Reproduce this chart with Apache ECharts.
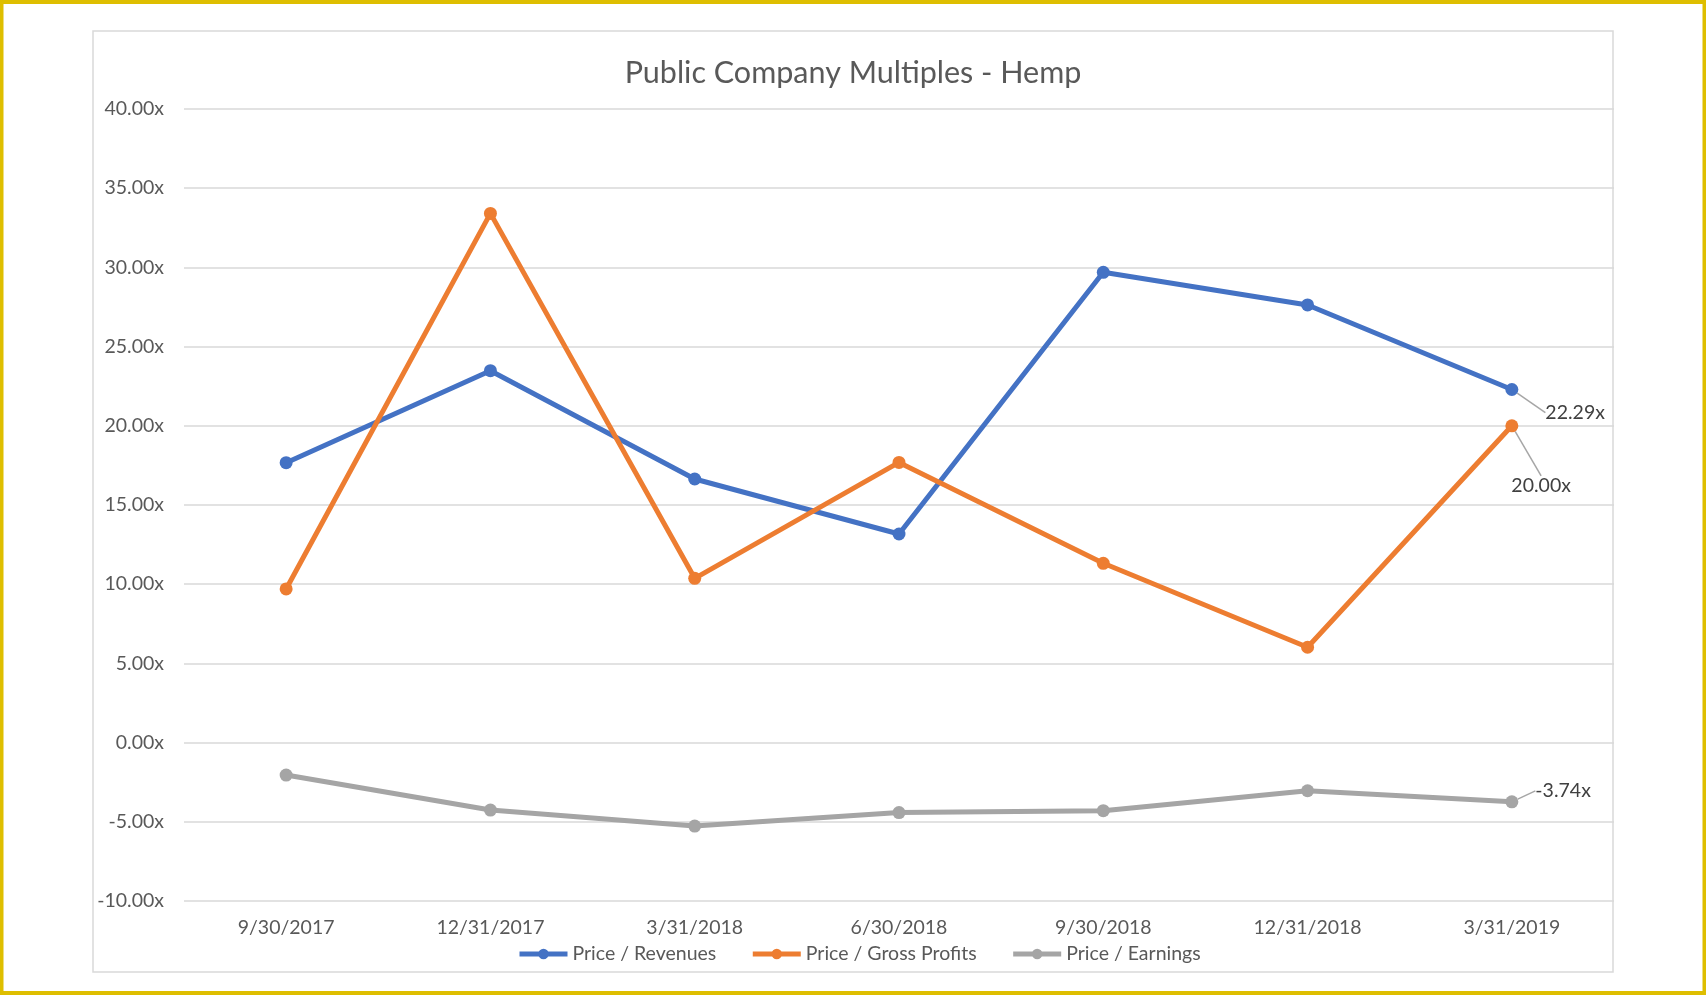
<!DOCTYPE html>
<html>
<head>
<meta charset="utf-8">
<title>Public Company Multiples - Hemp</title>
<script src="https://cdn.jsdelivr.net/npm/echarts@6/dist/echarts.min.js"></script>
<style>
  html, body { margin: 0; padding: 0; background: #fff; }
  #chart { width: 1706px; height: 995px; }
</style>
</head>
<body>
<div id="chart"></div>
<script>
// values
const categories = ['9/30/2017', '12/31/2017', '3/31/2018', '6/30/2018', '9/30/2018', '12/31/2018', '3/31/2019'];
const priceRevenues = [17.67, 23.48, 16.64, 13.17, 29.69, 27.63, 22.29];
const priceGrossProfits = [9.70, 33.41, 10.37, 17.69, 11.32, 6.02, 20.00];
const priceEarnings = [-2.05, -4.26, -5.27, -4.42, -4.30, -3.04, -3.74];
const seriesNames = ['Price / Revenues', 'Price / Gross Profits', 'Price / Earnings'];
const yMin = -10, yMax = 40, yStep = 5;

const FONT = 'Lato, "Open Sans", sans-serif';
const colors = ['#4472C4', '#ED7D31', '#A5A5A5'];

// only the last point of each series carries a label, moved off the point
const labelOffsets = [
  { dx: 22, dy: 23 },
  { dx: -12, dy: 60 },
  { dx: 12, dy: -11 }
];

function makeSeries(name, values, idx) {
  const data = values.map(function (v, i) {
    if (i !== values.length - 1) return v;
    return {
      value: v,
      label: {
        show: true,
        position: 'right',
        formatter: function (p) { return p.value.toFixed(2) + 'x'; },
        fontFamily: FONT,
        fontSize: 19.5,
        color: '#404040'
      },
      labelLine: {
        show: true,
        lineStyle: { color: '#A6A6A6', width: 1.5 }
      }
    };
  });
  return {
    name: name,
    type: 'line',
    data: data,
    color: colors[idx],
    symbol: 'circle',
    symbolSize: 13,
    lineStyle: { width: 5 },
    labelLayout: labelOffsets[idx],
    animation: false
  };
}

const chart = echarts.init(document.getElementById('chart'));
chart.setOption({
  backgroundColor: '#fff',
  title: {
    text: 'Public Company Multiples - Hemp',
    left: 'center',
    top: 53,
    textStyle: { fontFamily: FONT, fontSize: 30.5, fontWeight: 'normal', color: '#595959' }
  },
  graphic: [
    {
      type: 'rect',
      shape: { x: 1.5, y: 2, width: 1703, height: 991 },
      style: { fill: 'none', stroke: '#DEBE00', lineWidth: 4 },
      silent: true
    },
    {
      type: 'rect',
      shape: { x: 93, y: 31, width: 1520, height: 941 },
      style: { fill: 'none', stroke: '#D9D9D9', lineWidth: 1.5 },
      silent: true
    }
  ],
  legend: {
    data: seriesNames,
    left: 512,
    top: 939,
    itemWidth: 48,
    itemHeight: 13,
    itemGap: 34,
    lineStyle: { width: 5 },
    textStyle: { fontFamily: FONT, fontSize: 19.5, color: '#595959' }
  },
  grid: { left: 184, right: 92, top: 109, bottom: 94 },
  xAxis: {
    type: 'category',
    data: categories,
    boundaryGap: true,
    axisLine: { show: false },
    axisTick: { show: false },
    axisLabel: { fontFamily: FONT, fontSize: 19.5, color: '#595959', margin: 17 }
  },
  yAxis: {
    type: 'value',
    min: yMin,
    max: yMax,
    interval: yStep,
    axisLine: { show: false },
    axisTick: { show: false },
    axisLabel: {
      fontFamily: FONT,
      fontSize: 19.5,
      color: '#595959',
      margin: 20,
      formatter: function (v) { return v.toFixed(2) + 'x'; }
    },
    splitLine: { lineStyle: { color: '#D9D9D9', width: 1.5 } }
  },
  series: [
    makeSeries(seriesNames[0], priceRevenues, 0),
    makeSeries(seriesNames[1], priceGrossProfits, 1),
    makeSeries(seriesNames[2], priceEarnings, 2)
  ]
});
</script>
</body>
</html>
